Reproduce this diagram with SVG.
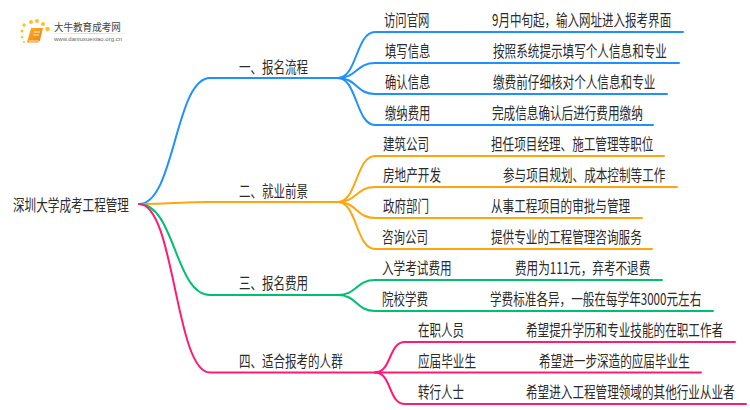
<svg xmlns="http://www.w3.org/2000/svg" width="750" height="410" viewBox="0 0 750 410">
<defs>
<linearGradient id="fade" x1="0" x2="1" y1="0" y2="0"><stop offset="0" stop-color="#ccc" stop-opacity="0.2"/><stop offset="0.5" stop-color="#ccc"/><stop offset="1" stop-color="#ccc" stop-opacity="0"/></linearGradient>
<linearGradient id="book" x1="0" x2="1" y1="0" y2="1"><stop offset="0" stop-color="#fbb326"/><stop offset="1" stop-color="#ee7d11"/></linearGradient>
</defs>
<style>
text{font-family:"Noto Sans CJK SC","Liberation Sans",sans-serif;fill:#2b2b2b;font-size:16px}
.c{fill:none;stroke-linecap:round;stroke-width:2}
.b{stroke:#1e90ff}.o{stroke:#ffa50f}.g{stroke:#00c070}.p{stroke:#ff1a75}
.d{fill:#fbc02d}
</style>
<g id="logo">
<circle class="d" cx="22" cy="37" r="1.3"/><circle class="d" cx="22" cy="31" r="1.5"/><circle class="d" cx="24" cy="25" r="1.7"/><circle class="d" cx="24" cy="42" r="1"/><circle class="d" cx="31" cy="22" r="2"/><circle class="d" cx="37" cy="21" r="2"/><circle class="d" cx="43" cy="24" r="2.1"/><circle class="d" cx="47.500" cy="29" r="2.300"/>
<path d="M31 28H43L40 40.500Q39 42.500 37 42.500H27Z" fill="url(#book)"/>
<path d="M29 41H39" stroke="#fff" stroke-width="0.800"/>
<path d="M34 32H40M33.500 35H39" stroke="#fff" stroke-width="0.800"/>
<text transform="translate(54 31) scale(.91 1)" style="font-size:10.500px;fill:#444">大牛教育成考网</text>
<rect x="50" y="33" width="84" height="0.800" fill="url(#fade)"/>
<text x="54" y="41" style="font-size:6px;fill:#666;font-family:'Liberation Sans',sans-serif">www.daniuxuexiao.org.cn</text>
</g>
<g id="connectors">
<path class="c b" d="M139 204C175 204 175 78 210 78H338"/>
<path class="c o" d="M139 204C175 204 175 202 210 202H338"/>
<path class="c g" d="M139 204C175 204 175 295 210 295H338"/>
<path class="c p" d="M139 204C175 204 175 372.500 210 372.500H375"/>
<path class="c b" d="M338 78C357 78 356 32 375 32H683"/>
<path class="c b" d="M338 78C357 78 356 63 375 63H679"/>
<path class="c b" d="M338 78C357 78 356 94 375 94H667"/>
<path class="c b" d="M338 78C357 78 356 125 375 125H653"/>
<path class="c o" d="M338 202C357 202 356 156 375 156H664"/>
<path class="c o" d="M338 202C357 202 356 187 375 187H677"/>
<path class="c o" d="M338 202C357 202 356 218 375 218H642"/>
<path class="c o" d="M338 202C357 202 356 249 375 249H652"/>
<path class="c g" d="M338 295C357 295 356 280 375 280H662"/>
<path class="c g" d="M338 295C357 295 356 311 375 311H713"/>
<path class="c p" d="M375 372.500C392 372.500 388 342 405 342H735"/>
<path class="c p" d="M375 372.500H701"/>
<path class="c p" d="M375 372.500C392 372.500 388 404 405 404H746"/>
</g>
<g id="root"><text transform="translate(13 211) scale(.725 1)">深圳大学成考工程管理</text></g>
<g id="n1"><text transform="translate(239 73) scale(.72 1)">一、报名流程</text></g>
<g id="n2"><text transform="translate(239 197) scale(.72 1)">二、就业前景</text></g>
<g id="n3"><text transform="translate(239 289) scale(.72 1)">三、报名费用</text></g>
<g id="n4"><text transform="translate(239 367) scale(.72 1)">四、适合报考的人群</text></g>
<g id="l1"><text transform="translate(384 26) scale(.71 1)">访问官网</text><text transform="translate(492 26) scale(.72 1)">9月中旬起，输入网址进入报考界面</text></g>
<g id="l2"><text transform="translate(385 57) scale(.71 1)">填写信息</text><text transform="translate(493 57) scale(.725 1)">按照系统提示填写个人信息和专业</text></g>
<g id="l3"><text transform="translate(385 88) scale(.71 1)">确认信息</text><text transform="translate(493 88) scale(.725 1)">缴费前仔细核对个人信息和专业</text></g>
<g id="l4"><text transform="translate(385 119) scale(.71 1)">缴纳费用</text><text transform="translate(492 119) scale(.725 1)">完成信息确认后进行费用缴纳</text></g>
<g id="l5"><text transform="translate(383 150) scale(.72 1)">建筑公司</text><text transform="translate(491 150) scale(.725 1)">担任项目经理、施工管理等职位</text></g>
<g id="l6"><text transform="translate(383 181) scale(.725 1)">房地产开发</text><text transform="translate(503 181) scale(.725 1)">参与项目规划、成本控制等工作</text></g>
<g id="l7"><text transform="translate(383 212) scale(.72 1)">政府部门</text><text transform="translate(491 212) scale(.725 1)">从事工程项目的审批与管理</text></g>
<g id="l8"><text transform="translate(382 243) scale(.72 1)">咨询公司</text><text transform="translate(491 243) scale(.725 1)">提供专业的工程管理咨询服务</text></g>
<g id="l9"><text transform="translate(382 274) scale(.725 1)">入学考试费用</text><text transform="translate(515 274) scale(.725 1)">费用为111元，弃考不退费</text></g>
<g id="l10"><text transform="translate(382 305) scale(.72 1)">院校学费</text><text transform="translate(490 305) scale(.725 1)">学费标准各异，一般在每学年3000元左右</text></g>
<g id="l11"><text transform="translate(418 336) scale(.72 1)">在职人员</text><text transform="translate(526 336) scale(.725 1)">希望提升学历和专业技能的在职工作者</text></g>
<g id="l12"><text transform="translate(418 367) scale(.725 1)">应届毕业生</text><text transform="translate(539 367) scale(.725 1)">希望进一步深造的应届毕业生</text></g>
<g id="l13"><text transform="translate(418 398) scale(.72 1)">转行人士</text><text transform="translate(526 398) scale(.725 1)">希望进入工程管理领域的其他行业从业者</text></g>
</svg>
